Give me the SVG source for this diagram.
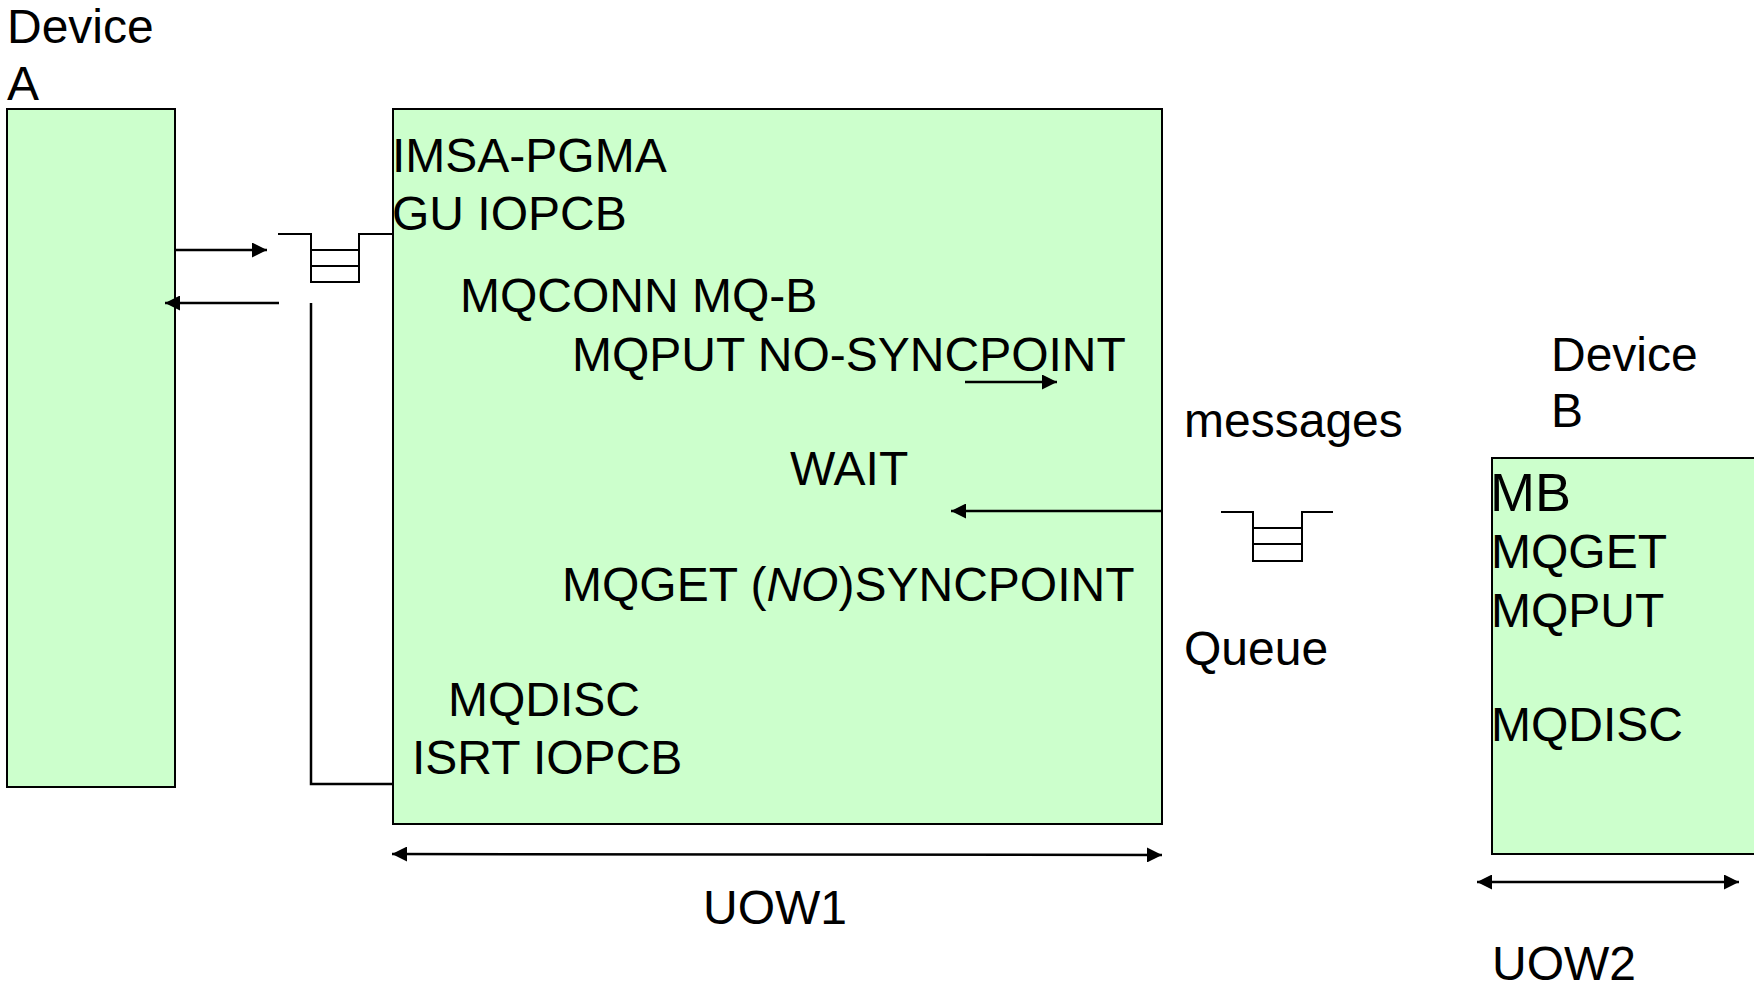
<svg xmlns="http://www.w3.org/2000/svg" width="1754" height="988" viewBox="0 0 1754 988">
  <defs>
    <marker id="arrow" viewBox="0 0 10 10" refX="10" refY="5" markerWidth="6" markerHeight="6" markerUnits="strokeWidth" orient="auto-start-reverse">
      <path d="M0,0 L10,5 L0,10 z" fill="#000"/>
    </marker>
    <style>
      .box { fill: #CCFFCC; stroke: #000; stroke-width: 2; }
      .lbl { font-family: "Liberation Sans", Arial, sans-serif; font-size: 48px; fill: #000; }
      .big { font-size: 54px; }
      .line { fill: none; stroke: #000; stroke-width: 2.5; }
      .arr { fill: none; stroke: #000; stroke-width: 2.5; marker-end: url(#arrow); }
      .arr2 { fill: none; stroke: #000; stroke-width: 2.5; marker-start: url(#arrow); marker-end: url(#arrow); }
      .q { fill: none; stroke: #000; stroke-width: 2; }
    </style>
  </defs>
  <rect width="1754" height="988" fill="#fff"/>

  <!-- Device A terminal -->
  <g id="device-a">
    <rect class="box" x="7" y="109" width="168" height="678"/>
    <text class="lbl" x="7" y="43">Device</text>
    <text class="lbl" x="7" y="100">A</text>
  </g>

  <!-- IMS transaction queue -->
  <g id="ims-queue">
    <path class="q" d="M278,234 H311 V282 H359 V234 H392"/>
    <path class="q" d="M311,250 H359 M311,266 H359"/>
  </g>

  <!-- IMSA-PGMA program, UOW1 -->
  <g id="imsa-pgma">
    <rect class="box" x="393" y="109" width="769" height="715"/>
    <text class="lbl" x="392" y="172">IMSA-PGMA</text>
    <text class="lbl" x="392" y="230">GU IOPCB</text>
    <text class="lbl" x="460" y="312">MQCONN MQ-B</text>
    <text class="lbl" x="572" y="371">MQPUT NO-SYNCPOINT</text>
    <text class="lbl" x="790" y="485">WAIT</text>
    <text class="lbl" x="562" y="601">MQGET (<tspan font-style="italic">NO</tspan>)SYNCPOINT</text>
    <text class="lbl" x="448" y="716">MQDISC</text>
    <text class="lbl" x="412" y="774">ISRT IOPCB</text>
  </g>

  <!-- MQ message queue -->
  <g id="mq-queue">
    <path class="q" d="M1221,512 H1253 V561 H1302 V512 H1333"/>
    <path class="q" d="M1253,528 H1302 M1253,544 H1302"/>
    <text class="lbl" x="1184" y="437">messages</text>
    <text class="lbl" x="1184" y="665">Queue</text>
  </g>

  <!-- Device B program MB, UOW2 -->
  <g id="device-b">
    <rect class="box" x="1492" y="458" width="280" height="396"/>
    <text class="lbl" x="1551" y="371">Device</text>
    <text class="lbl" x="1551" y="427">B</text>
    <text class="lbl big" x="1490" y="511">MB</text>
    <text class="lbl" x="1491" y="568">MQGET</text>
    <text class="lbl" x="1491" y="627">MQPUT</text>
    <text class="lbl" x="1491" y="741">MQDISC</text>
  </g>

  <!-- Unit-of-work spans -->
  <g id="uow1">
    <text class="lbl" x="703" y="924">UOW1</text>
  </g>
  <g id="uow2">
    <text class="lbl" x="1492" y="980">UOW2</text>
  </g>

  <!-- Connectors -->
  <g id="connectors">
    <line class="arr" x1="175" y1="250" x2="267" y2="250"/>
    <line class="arr" x1="279" y1="303" x2="165" y2="303"/>
    <path class="line" d="M311,303 V784 H392"/>
    <line class="arr" x1="965" y1="382" x2="1057" y2="382"/>
    <line class="arr" x1="1162" y1="511" x2="951" y2="511"/>
    <line class="arr2" x1="392" y1="854" x2="1162" y2="855"/>
    <line class="arr2" x1="1477" y1="882" x2="1739" y2="882"/>
  </g>
</svg>
